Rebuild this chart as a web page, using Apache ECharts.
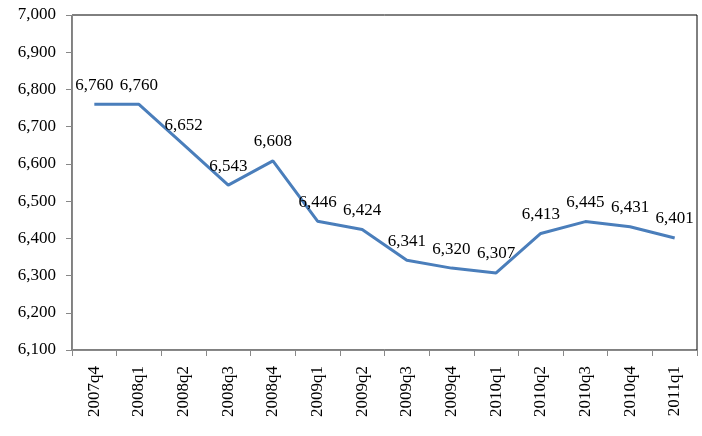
<!DOCTYPE html>
<html>
<head>
<meta charset="utf-8">
<script src="https://cdn.jsdelivr.net/npm/echarts@6/dist/echarts.min.js"></script>
<style>html,body{margin:0;padding:0;background:#fff}#c{width:702px;height:436px}</style>
</head>
<body>
<div id="c"></div>
<script>
const categories = ['2007q4','2008q1','2008q2','2008q3','2008q4','2009q1','2009q2','2009q3','2009q4','2010q1','2010q2','2010q3','2010q4','2011q1'];
const values = [6760,6760,6652,6543,6608,6446,6424,6341,6320,6307,6413,6445,6431,6401];
const yMin = 6100, yMax = 7000, yStep = 100;

const chart = echarts.init(document.getElementById('c'));
const font = '"Liberation Serif", "Times New Roman", serif';
chart.setOption({
  animation: false,
  grid: {left: 72, right: 5, top: 15, bottom: 86, show: true, borderColor: '#000', borderWidth: 1},
  xAxis: {
    type: 'category', data: categories, boundaryGap: true,
    axisLine: {lineStyle: {color: '#888', width: 1}},
    axisTick: {show: true, alignWithLabel: false, length: 6, lineStyle: {color: '#888'}},
    axisLabel: {rotate: 90, margin: 16, color: '#000', fontFamily: font, fontSize: 17, interval: 0}
  },
  yAxis: {
    type: 'value', min: yMin, max: yMax, interval: yStep,
    axisLine: {show: true, lineStyle: {color: '#888', width: 1}},
    axisTick: {show: true, length: 6, lineStyle: {color: '#888'}},
    splitLine: {show: false},
    axisLabel: {margin: 16, color: '#000', fontFamily: font, fontSize: 17,
      formatter: v => v.toLocaleString('en-US')}
  },
  series: [{
    type: 'line', data: values, showSymbol: true, symbol: 'circle', symbolSize: 1,
    itemStyle: {color: 'rgba(0,0,0,0)'},
    lineStyle: {color: '#4A7EBB', width: 3},
    label: {show: true, position: 'top', distance: 10, color: '#000', fontFamily: font, fontSize: 17,
      formatter: p => p.value.toLocaleString('en-US')}
  }]
});
</script>
</body>
</html>
